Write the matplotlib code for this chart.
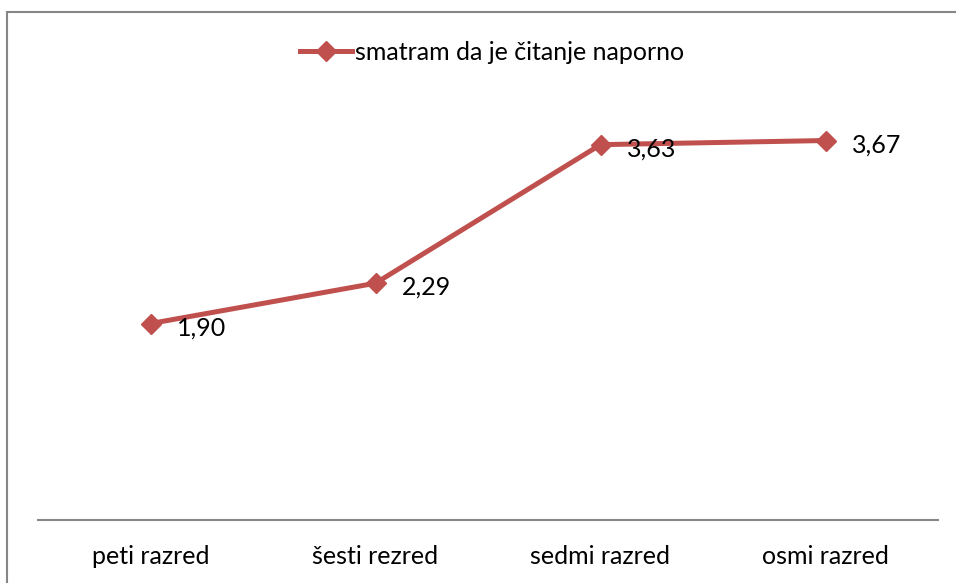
import matplotlib.pyplot as plt
from matplotlib.patches import Rectangle

plt.rcParams['font.family'] = ['Lato', 'DejaVu Sans']

razredi = ['peti razred', 'šesti rezred', 'sedmi razred', 'osmi razred']
naporno = [1.90, 2.29, 3.63, 3.67]
oznake = ['1,90', '2,29', '3,63', '3,67']
serija = 'smatram da je čitanje naporno'

W, H = 956, 583
fig = plt.figure(figsize=(W / 100, H / 100), dpi=100)

# chart area border (cut off at right and bottom like the source)
fig.patches.append(Rectangle((7 / W, -0.05), 1.1, 1 - 12 / H + 0.05,
                             transform=fig.transFigure, fill=False,
                             edgecolor='#868686', linewidth=1.5))

ax = fig.add_axes([38 / W, (H - 520) / H, 900 / W, (520 - 106.4) / H])
x = range(len(razredi))
ax.plot(x, naporno, color='#C0504D', linewidth=3.6, marker='D',
        markersize=10, label=serija)
for xi, yi, t in zip(x, naporno, oznake):
    ax.annotate(t, (xi, yi), xytext=(19, -3), textcoords='offset points',
                ha='left', va='center', fontsize=18)

ax.set_xlim(-0.5, 3.5)
ax.set_ylim(0, 4)
ax.set_xticks(list(x))
ax.set_xticklabels(razredi, fontsize=18)
ax.tick_params(axis='x', length=0, pad=18)
ax.set_yticks([])
for s in ['top', 'right', 'left']:
    ax.spines[s].set_visible(False)
ax.spines['bottom'].set_color('#868686')
ax.spines['bottom'].set_linewidth(1.5)

fig.legend(loc='center', bbox_to_anchor=(492 / W, 1 - 52 / H), frameon=False,
           fontsize=18, handlelength=2.1, handletextpad=0.1)

fig.savefig('out.png', dpi=100)
